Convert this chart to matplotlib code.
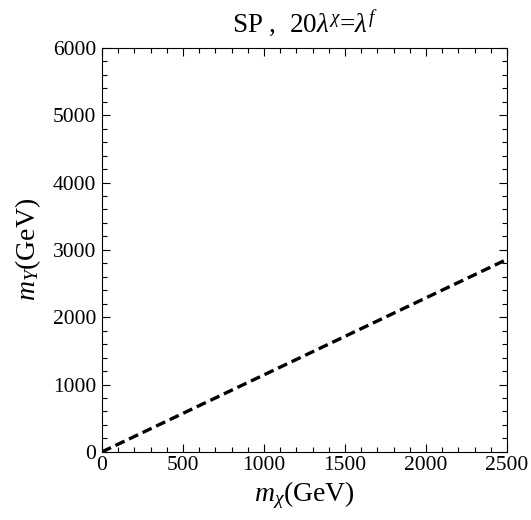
import numpy as np
import matplotlib.pyplot as plt
from matplotlib.ticker import MultipleLocator

plt.rcParams['font.family'] = ['Liberation Serif', 'DejaVu Serif']
# all math in Times-like italic (so the Upsilon subscript is slanted too)
plt.rcParams['mathtext.fontset'] = 'custom'
plt.rcParams['mathtext.rm'] = 'Liberation Serif:italic'
plt.rcParams['mathtext.it'] = 'Liberation Serif:italic'

# m_chi range and m_Y at end points
m_chi = [0, 2500]
m_Y = [0, 2860]

fig = plt.figure(figsize=(5.31, 5.20), dpi=100)
ax = fig.add_axes([0.192, 0.131, 0.763, 0.777])

ax.plot(m_chi, m_Y, color='black', lw=2.4, ls='--', dashes=(3.0, 1.5))

ax.set_xlim(0, 2500)
ax.set_ylim(0, 6000)
ax.xaxis.set_major_locator(MultipleLocator(500))
ax.xaxis.set_minor_locator(MultipleLocator(100))
ax.yaxis.set_major_locator(MultipleLocator(1000))
ax.yaxis.set_minor_locator(MultipleLocator(200))
ax.tick_params(which='both', direction='in', top=True, right=True, labelsize=15.5)
ax.tick_params(axis='x', pad=3)
ax.tick_params(axis='y', pad=4)
ax.tick_params(which='major', length=6, width=0.8)
ax.tick_params(which='minor', length=3.5, width=0.8)

ax.set_xlabel(r'$m_{\chi}$(GeV)', fontsize=20, labelpad=3)
ax.set_ylabel(r'$m_{\Upsilon}$(GeV)', fontsize=20, labelpad=7)
ax.set_title(r'SP ,  20$\lambda^{\chi}$=$\lambda^{f}$', fontsize=19.5, pad=11)

fig.savefig('out.png', dpi=100)
